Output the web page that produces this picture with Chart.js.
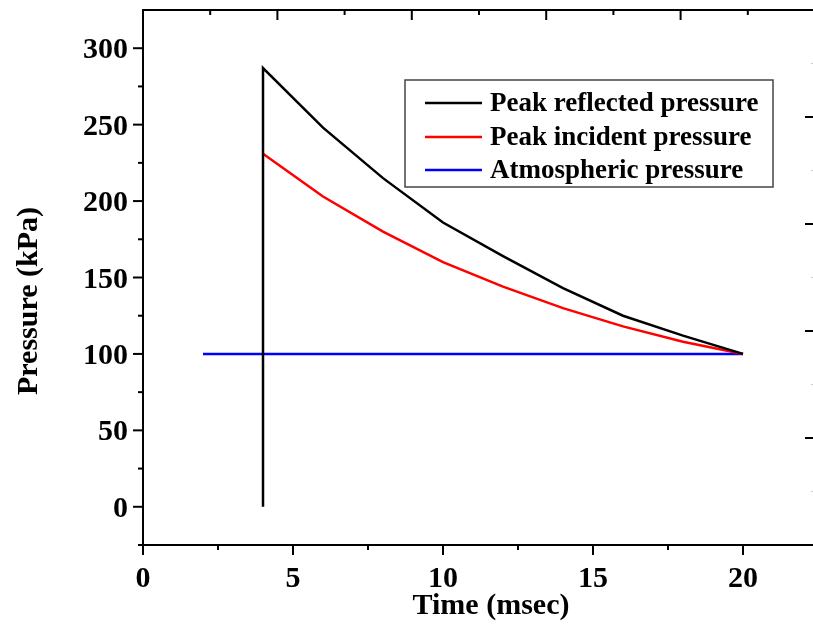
<!DOCTYPE html>
<html>
<head>
<meta charset="utf-8">
<script src="https://cdn.jsdelivr.net/npm/chart.js@4.4.0/dist/chart.umd.min.js"></script>
<style>
  html, body { margin: 0; padding: 0; background: #fff; overflow: hidden; }
  canvas { display: block; }
</style>
</head>
<body>
<canvas id="pressureChart" width="820" height="630"></canvas>
<script>
const seriesNames = ['Peak reflected pressure', 'Peak incident pressure', 'Atmospheric pressure'];
const seriesColors = ['#000000', '#ff0000', '#0000ff'];

// time (msec) / pressure (kPa)
const reflectedTime = [4, 4, 6, 8, 10, 12, 14, 16, 18, 20];
const reflectedPressure = [0, 287, 248, 215, 186, 164, 143, 125, 112, 100];

const incidentTime = [4, 6, 8, 10, 12, 14, 16, 18, 20];
const incidentPressure = [231, 203, 180, 160, 144, 130, 118, 108, 100];

const atmosphericTime = [2, 20];
const atmosphericPressure = [100, 100];

const xTickLabels = [0, 5, 10, 15, 20];
const xMinorTicks = [2.5, 7.5, 12.5, 17.5];
const yTickLabels = [0, 50, 100, 150, 200, 250, 300];
const yMinorTicks = [-25, 25, 75, 125, 175, 225, 275];
// top and right mirror axes have their own unlabelled 0..10 scale
const mirrorMajor = [2, 4, 6, 8];
const mirrorMinor = [1, 3, 5, 7, 9];

function toPoints(xs, ys) {
    return xs.map((v, i) => ({ x: v, y: ys[i] }));
}

const serif = '"Liberation Serif", "Times New Roman", serif';

const axesPlugin = {
    id: 'axesPlugin',
    afterDatasetsDraw(chart) {
        const { ctx, chartArea: a, scales } = chart;
        const sx = scales.x, sy = scales.y, tx = scales.x2, ry = scales.y2;
        const line = (x1, y1, x2, y2) => {
            ctx.beginPath();
            ctx.moveTo(x1, y1);
            ctx.lineTo(x2, y2);
            ctx.stroke();
        };
        ctx.save();
        ctx.strokeStyle = '#000';
        ctx.lineWidth = 2;
        ctx.strokeRect(a.left, a.top, a.right - a.left, a.bottom - a.top);

        // bottom + left ticks point outward
        xTickLabels.forEach(v => { const p = sx.getPixelForValue(v); line(p, a.bottom, p, a.bottom + 10); });
        xMinorTicks.forEach(v => { const p = sx.getPixelForValue(v); line(p, a.bottom, p, a.bottom + 5); });
        yTickLabels.forEach(v => { const p = sy.getPixelForValue(v); line(a.left, p, a.left - 10, p); });
        yMinorTicks.forEach(v => { const p = sy.getPixelForValue(v); line(a.left, p, a.left - 5, p); });

        // top + right ticks point inward
        mirrorMajor.forEach(v => { const p = tx.getPixelForValue(v); line(p, a.top, p, a.top + 10); });
        mirrorMinor.forEach(v => { const p = tx.getPixelForValue(v); line(p, a.top, p, a.top + 5); });
        mirrorMajor.forEach(v => { const p = ry.getPixelForValue(v); line(a.right, p, a.right - 10, p); });
        ctx.lineWidth = 1;
        ctx.strokeStyle = '#ccc';
        mirrorMinor.forEach(v => { const p = ry.getPixelForValue(v); line(a.right, p, a.right - 4, p); });

        // tick labels
        ctx.fillStyle = '#000';
        ctx.font = 'bold 30px ' + serif;
        ctx.textBaseline = 'alphabetic';
        ctx.textAlign = 'center';
        xTickLabels.forEach(v => ctx.fillText(String(v), sx.getPixelForValue(v), a.bottom + 42));
        ctx.textAlign = 'right';
        yTickLabels.forEach(v => ctx.fillText(String(v), a.left - 15, sy.getPixelForValue(v) + 10));

        // axis titles
        ctx.font = 'bold 30px ' + serif;
        ctx.textAlign = 'center';
        ctx.fillText('Time (msec)', 491, 614);
        ctx.save();
        ctx.translate(37, 301);
        ctx.rotate(-Math.PI / 2);
        ctx.fillText('Pressure (kPa)', 0, 0);
        ctx.restore();

        // legend box
        ctx.strokeStyle = '#444';
        ctx.lineWidth = 1.5;
        ctx.strokeRect(405, 80, 368, 107);
        const rows = [103, 137, 170];
        ctx.font = 'bold 27px ' + serif;
        ctx.textAlign = 'left';
        chart.data.datasets.forEach((ds, i) => {
            ctx.strokeStyle = ds.borderColor;
            ctx.lineWidth = 2.5;
            line(425, rows[i], 482, rows[i]);
            ctx.fillText(ds.label, 490, rows[i] + 8);
        });
        ctx.restore();
    }
};

const ctx = document.getElementById('pressureChart').getContext('2d');
new Chart(ctx, {
    type: 'line',
    data: {
        datasets: [
            { label: seriesNames[0], data: toPoints(reflectedTime, reflectedPressure) },
            { label: seriesNames[1], data: toPoints(incidentTime, incidentPressure) },
            { label: seriesNames[2], data: toPoints(atmosphericTime, atmosphericPressure) }
        ].map((ds, i) => Object.assign(ds, {
            borderColor: seriesColors[i],
            backgroundColor: seriesColors[i],
            borderWidth: 2.5,
            pointRadius: 0,
            tension: 0,
            fill: false
        }))
    },
    options: {
        responsive: false,
        animation: false,
        devicePixelRatio: 1,
        layout: { padding: { left: 143, top: 10, right: 5, bottom: 85 } },
        plugins: { legend: { display: false }, tooltip: { enabled: false } },
        scales: {
            x: { type: 'linear', min: 0, max: 22.4, display: false },
            y: { type: 'linear', min: -25, max: 325, display: false },
            x2: { type: 'linear', min: 0, max: 10, display: false, position: 'top' },
            y2: { type: 'linear', min: 0, max: 10, display: false, position: 'right' }
        }
    },
    plugins: [axesPlugin]
});
</script>
</body>
</html>
